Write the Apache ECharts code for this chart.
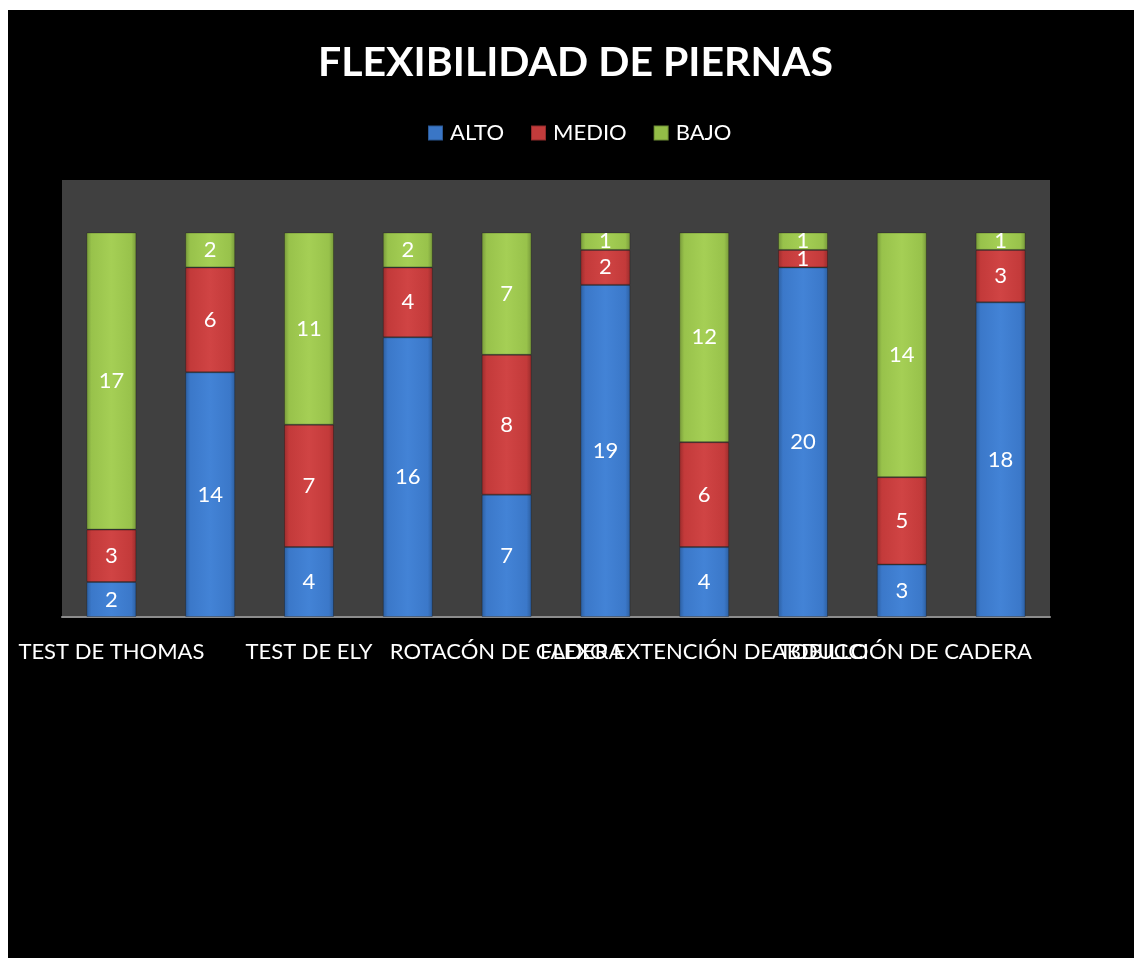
<!DOCTYPE html>
<html>
<head>
<meta charset="utf-8">
<script src="https://cdn.jsdelivr.net/npm/echarts@6/dist/echarts.min.js"></script>
<style>
  html, body { margin: 0; padding: 0; background: #fff; }
  #chart { position: absolute; left: 8px; top: 10px; width: 1126px; height: 948px; background: #000; }
</style>
</head>
<body>
<div id="chart"></div>
<script>
const categories = [
  'TEST DE THOMAS', 'TEST DE OBER', 'TEST DE ELY', 'TEST DE LASÈGUE',
  'ROTACÓN DE CADERA', 'FLEXIÓN DE CADERA', 'FLEXO EXTENCIÓN DE TOBILLO',
  'TEST DE SENTADILLA', 'ABDUCCIÓN DE CADERA', 'ADUCCIÓN DE CADERA'
]
const alto = [2, 14, 4, 16, 7, 19, 4, 20, 3, 18]
const medio = [3, 6, 7, 4, 8, 2, 6, 1, 5, 3]
const bajo = [17, 2, 11, 2, 7, 1, 12, 1, 14, 1]

const font = 'Lato, "Open Sans", sans-serif'

function bevel(dark, base, light) {
  return {
    type: 'linear', x: 0, y: 0, x2: 1, y2: 0,
    colorStops: [
      { offset: 0, color: dark },
      { offset: 0.1, color: base },
      { offset: 0.5, color: light },
      { offset: 0.9, color: base },
      { offset: 1, color: dark }
    ]
  }
}

const colors = {
  ALTO: bevel('#2c5e9f', '#3b78c9', '#4383d6'),
  MEDIO: bevel('#992c2c', '#c33a3a', '#d04444'),
  BAJO: bevel('#76983a', '#98c24b', '#a5cf55')
}
const legendColors = { ALTO: '#3a76c6', MEDIO: '#c23b3b', BAJO: '#93bd47' }

function makeSeries(name, data) {
  return {
    name: name,
    type: 'bar',
    stack: 'total',
    barWidth: 50,
    data: data,
    itemStyle: { color: colors[name], borderColor: 'rgba(0,0,0,0.25)', borderWidth: 1 },
    label: {
      show: true, position: 'inside', color: '#fff',
      fontFamily: font, fontSize: 22
    }
  }
}

const chart = echarts.init(document.getElementById('chart'))
chart.setOption({
  backgroundColor: '#000',
  animation: false,
  title: {
    text: 'FLEXIBILIDAD DE PIERNAS',
    left: 305, top: 27,
    textStyle: { color: '#fff', fontFamily: font, fontWeight: 'bold', fontSize: 41 }
  },
  legend: {
    top: 107, left: 414,
    itemWidth: 15, itemHeight: 15, itemGap: 26,
    icon: 'rect',
    textStyle: { color: '#fff', fontFamily: font, fontSize: 22, padding: [0, 0, 0, 2] },
    data: ['ALTO', 'MEDIO', 'BAJO'].map(n => ({ name: n, itemStyle: { color: legendColors[n] } }))
  },
  grid: {
    left: 54, right: 84, top: 170, bottom: 341,
    show: true, backgroundColor: '#404040', borderWidth: 0
  },
  xAxis: {
    type: 'category',
    data: categories,
    axisLine: { lineStyle: { color: '#8c8c8c', width: 2 } },
    axisTick: { show: false },
    axisLabel: {
      interval: 0, color: '#fff', fontFamily: font, fontSize: 22, margin: 24,
      hideOverlap: false, showMinLabel: true, showMaxLabel: false,
      formatter: (v, i) => (i % 2 === 0 ? v : '')
    }
  },
  yAxis: {
    type: 'value', min: 0, max: 25,
    show: false,
    splitLine: { show: false }
  },
  series: [
    makeSeries('ALTO', alto),
    makeSeries('MEDIO', medio),
    makeSeries('BAJO', bajo)
  ]
})
</script>
</body>
</html>
